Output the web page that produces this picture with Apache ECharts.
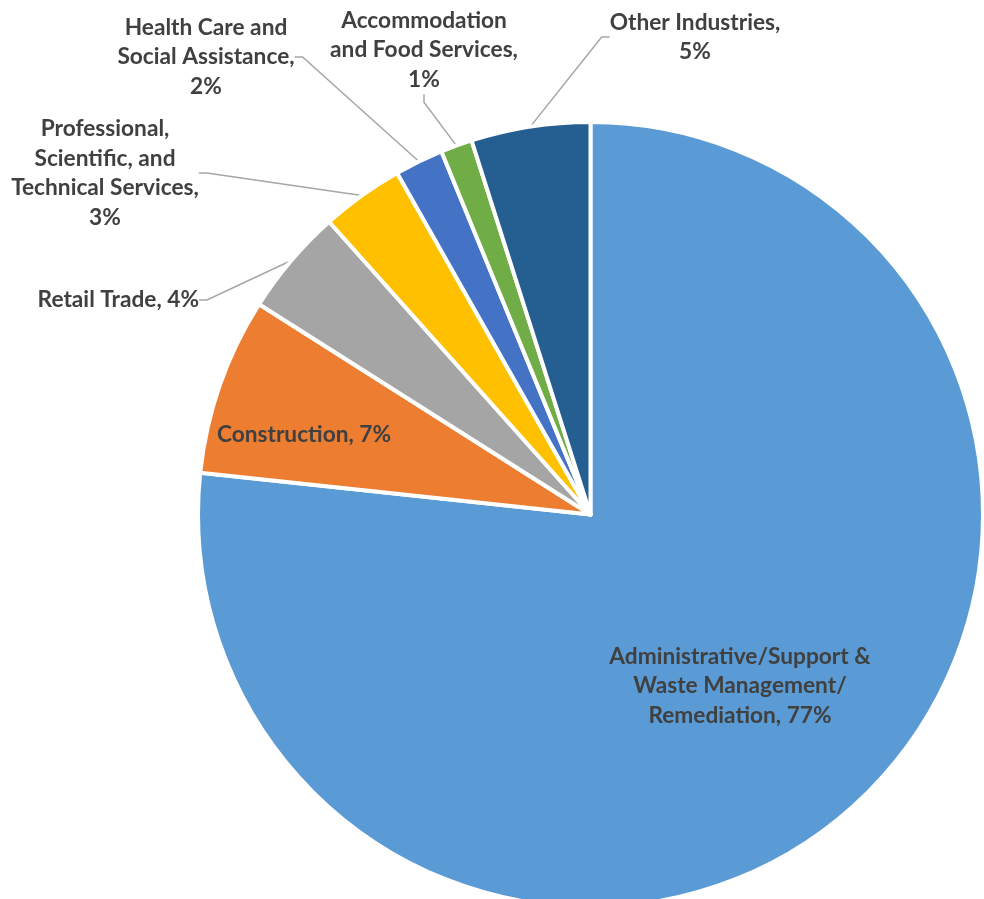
<!DOCTYPE html>
<html>
<head>
<meta charset="utf-8">
<script src="https://cdn.jsdelivr.net/npm/echarts@6/dist/echarts.min.js"></script>
<style>
  html, body { margin: 0; padding: 0; background: #ffffff; }
  #chart { width: 984px; height: 899px; }
</style>
</head>
<body>
<div id="chart"></div>
<script>
// ---- data ----
const categories = [
  "Administrative/Support & Waste Management/Remediation",
  "Construction",
  "Retail Trade",
  "Professional, Scientific, and Technical Services",
  "Health Care and Social Assistance",
  "Accommodation and Food Services",
  "Other Industries"
];
const shares = [76.7, 7.3, 4.4, 3.4, 2.0, 1.3, 4.9];
// label text as wrapped in the original
const labelLines = [
  ["Administrative/Support &", "Waste Management/", "Remediation,"],
  ["Construction,"],
  ["Retail Trade,"],
  ["Professional,", "Scientific, and", "Technical Services,"],
  ["Health Care and", "Social Assistance,"],
  ["Accommodation", "and Food Services,"],
  ["Other Industries,"]
];

// ---- styling / layout (kept apart from data) ----
const colors = ["#5B9BD5", "#ED7D31", "#A5A5A5", "#FFC000", "#4472C4", "#70AD47", "#255E91"];
const insideIdx = [0, 1];
const labelPos = [
  { x: 740, y: 686, align: "center" },
  { x: 304, y: 435, align: "center" },
  { x: 199, y: 300, align: "right" },
  { x: 105, y: 173, align: "center" },
  { x: 206, y: 57, align: "center" },
  { x: 424, y: 50, align: "center" },
  { x: 695, y: 37, align: "center" }
];

function labelText(i) {
  const lines = labelLines[i].slice();
  const pct = Math.round(shares[i]) + "%";
  if (i === 0 || i === 1 || i === 2) {
    lines[lines.length - 1] += " " + pct;
  } else {
    lines.push(pct);
  }
  return lines.join("\n");
}

const seriesData = categories.map((name, i) => {
  const inside = insideIdx.indexOf(i) >= 0;
  return {
    name: name,
    value: shares[i],
    itemStyle: { color: colors[i] },
    label: { position: inside ? "inside" : "outside" },
    labelLine: { show: !inside }
  };
});

const chart = echarts.init(document.getElementById("chart"), null, { renderer: "canvas" });
chart.setOption({
  animation: false,
  backgroundColor: "#ffffff",
  series: [{
    type: "pie",
    center: [590.5, 514.5],
    radius: 392.5,
    startAngle: 90,
    clockwise: true,
    avoidLabelOverlap: false,
    data: seriesData,
    itemStyle: { borderColor: "#ffffff", borderWidth: 4 },
    label: {
      show: true,
      formatter: (p) => labelText(p.dataIndex),
      fontFamily: "Lato",
      fontWeight: "bold",
      fontSize: 22.7,
      lineHeight: 29.5,
      color: "#404040",
      align: "center"
    },
    labelLine: {
      show: true,
      length: 10,
      length2: 8,
      lineStyle: { color: "#A6A6A6", width: 1.5 }
    },
    labelLayout: (params) => {
      const p = labelPos[params.dataIndex];
      return { x: p.x, y: p.y, align: p.align, verticalAlign: "middle" };
    },
    emphasis: { disabled: true }
  }]
});
</script>
</body>
</html>
